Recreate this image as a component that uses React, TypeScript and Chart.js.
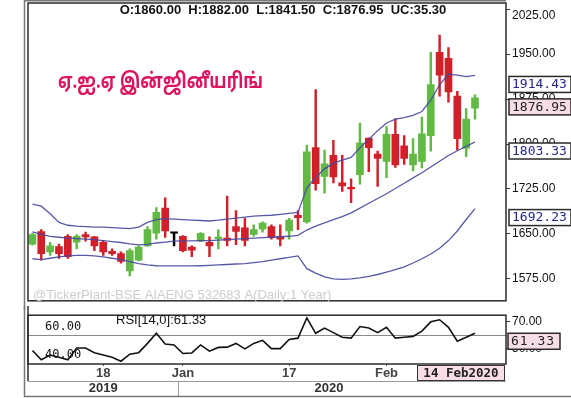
import React, { useEffect, useRef } from 'react';
import { Chart, registerables } from 'chart.js';

Chart.register(...registerables);

// Daily sessions, BSE AIAENG
const dates = [
  '06 Dec 2019', '09 Dec 2019', '10 Dec 2019', '11 Dec 2019', '12 Dec 2019', '13 Dec 2019',
  '16 Dec 2019', '17 Dec 2019', '18 Dec 2019', '19 Dec 2019', '20 Dec 2019', '23 Dec 2019',
  '24 Dec 2019', '26 Dec 2019', '27 Dec 2019', '30 Dec 2019', '31 Dec 2019',
  '01 Jan 2020', '02 Jan 2020', '03 Jan 2020', '06 Jan 2020', '07 Jan 2020', '08 Jan 2020',
  '09 Jan 2020', '10 Jan 2020', '13 Jan 2020', '14 Jan 2020', '15 Jan 2020', '16 Jan 2020',
  '17 Jan 2020', '20 Jan 2020', '21 Jan 2020', '22 Jan 2020', '23 Jan 2020', '24 Jan 2020',
  '27 Jan 2020', '28 Jan 2020', '29 Jan 2020', '30 Jan 2020', '31 Jan 2020',
  '01 Feb 2020', '03 Feb 2020', '04 Feb 2020', '05 Feb 2020', '06 Feb 2020', '07 Feb 2020',
  '10 Feb 2020', '11 Feb 2020', '12 Feb 2020', '13 Feb 2020', '14 Feb 2020',
];

const opens = [
  1633, 1654, 1620, 1629, 1646, 1636, 1649, 1645, 1636, 1621, 1617, 1588, 1606, 1630, 1651, 1693, 1651,
  1646, 1628, 1638, 1636, 1642, 1643, 1662, 1660, 1649, 1658, 1662, 1645, 1655, 1681, 1670, 1794,
  1746, 1781, 1735, 1726, 1749, 1810, 1783, 1771, 1816, 1797, 1765, 1771, 1814, 1953, 1943, 1880,
  1793, 1860,
];
const highs = [
  1651, 1657, 1636, 1633, 1649, 1649, 1653, 1646, 1639, 1625, 1620, 1625, 1630, 1662, 1694, 1710, 1651,
  1647, 1630, 1652, 1645, 1657, 1713, 1689, 1676, 1665, 1670, 1665, 1665, 1676, 1689, 1798, 1891,
  1790, 1806, 1781, 1742, 1835, 1810, 1788, 1829, 1842, 1814, 1809, 1845, 1953, 1982, 1961, 1888,
  1859, 1882,
];
const lows = [
  1631, 1606, 1614, 1609, 1609, 1625, 1638, 1622, 1614, 1614, 1601, 1580, 1605, 1629, 1641, 1644, 1630,
  1620, 1612, 1637, 1612, 1625, 1630, 1632, 1630, 1646, 1653, 1641, 1630, 1641, 1657, 1668, 1723,
  1718, 1735, 1721, 1702, 1733, 1754, 1729, 1744, 1761, 1766, 1755, 1760, 1788, 1880, 1870, 1790,
  1779, 1841.5,
];
const closes = [
  1649, 1617, 1630, 1617, 1612, 1646, 1645, 1630, 1620, 1617, 1604, 1622, 1628, 1657, 1686, 1655, 1651,
  1622, 1623, 1651, 1630, 1643, 1639, 1654, 1639, 1657, 1668, 1644, 1641, 1673, 1677, 1787, 1734,
  1767, 1745, 1730, 1725, 1802, 1794, 1776, 1816, 1765, 1776, 1783, 1817, 1899, 1915, 1887, 1809,
  1841.65, 1876.95,
];

// Bollinger bands (20, 2)
const bbUpper = [
  1699.5, 1696.3, 1683.5, 1669.2, 1664.4, 1662.8, 1662.0, 1661.2, 1661.2, 1660.4, 1659.6, 1658.8,
  1661.2, 1669.2, 1673.9, 1675.5, 1674.7, 1673.9, 1673.1, 1672.3, 1671.5, 1672.8, 1674.7, 1676.3,
  1677.9, 1679.5, 1680.3, 1681.1, 1682.7, 1684.3, 1685.9, 1726.6, 1744.2, 1758.5, 1768.1, 1772.9,
  1777.7, 1793.6, 1808.0, 1822.3, 1835.1, 1841.5, 1843.9, 1847.9, 1854.3, 1873.4, 1898.9, 1916.5,
  1914.9, 1912.5, 1914.43,
];
const bbMiddle = [
  1653.2, 1649.2, 1646.0, 1644.4, 1642.8, 1642.0, 1641.2, 1640.4, 1638.8, 1637.2, 1635.6, 1633.2,
  1631.6, 1632.4, 1634.8, 1636.4, 1638.0, 1638.4, 1638.4, 1638.8, 1638.8, 1639.6, 1640.4, 1641.2,
  1642.0, 1642.8, 1643.6, 1644.4, 1645.2, 1646.0, 1647.6, 1656.4, 1662.8, 1668.4, 1673.9, 1678.7,
  1685.1, 1693.1, 1701.1, 1709.1, 1717.0, 1725.8, 1734.6, 1743.4, 1752.1, 1761.7, 1771.3, 1780.9,
  1788.8, 1796.0, 1803.33,
];
const bbLower = [
  1608.5, 1606.9, 1609.3, 1611.7, 1613.3, 1614.1, 1614.1, 1613.3, 1611.7, 1609.3, 1606.9, 1603.7,
  1600.5, 1598.1, 1596.8, 1596.5, 1596.5, 1596.5, 1596.5, 1596.8, 1597.3, 1598.1, 1598.9, 1599.7,
  1600.5, 1602.1, 1603.7, 1606.1, 1608.5, 1610.9, 1613.3, 1592.0, 1584.6, 1578.2, 1575.0, 1574.2,
  1575.0, 1576.6, 1579.0, 1582.2, 1586.2, 1590.2, 1595.0, 1601.4, 1608.5, 1616.5, 1626.1, 1638.8,
  1654.8, 1674.0, 1692.23,
];

// RSI(14)
const rsi = [
  48.9, 42.2, 45.6, 44.0, 42.2, 50.7, 50.7, 47.3, 45.6, 44.0, 41.1, 46.2, 47.3, 54.0, 61.3, 53.6, 52.9,
  46.7, 47.1, 52.9, 48.4, 51.1, 51.3, 54.0, 50.0, 54.0, 56.2, 50.2, 50.2, 56.9, 57.8, 72.4, 61.3,
  65.1, 61.8, 58.4, 57.8, 66.2, 65.1, 61.8, 65.6, 57.8, 58.4, 59.1, 62.9, 69.6, 71.1, 65.6, 55.6,
  58.4, 61.33,
];

const priceTicks = [1575, 1650, 1725, 1800, 1875, 1950, 2025];
const rsiTicks = [50, 70];
const rsiLevels = [60, 40];
const axisMarks = ['18 Dec 2019', '01 Jan 2020', '17 Jan 2020', '01 Feb 2020'];
const axisMarkText = ['18', 'Jan', '17', 'Feb'];
const years = ['2019', '2020'];
const emptySlots = 3;

const title = 'ஏ.ஐ.ஏ இன்ஜினீயரிங்';
const watermark = '@TickerPlant-BSE AIAENG 532683 A(Daily:1 Year)';

const GREEN = '#62b946';
const RED = '#d2202a';
const BAND = 'rgba(70, 70, 160, 0.9)';
const BAND_TEXT = '#25258c';
const PINK = '#f8dce8';
const SANS = '"Liberation Sans", Arial, sans-serif';
const MONO = '"DejaVu Sans Mono", monospace';

const n = dates.length;
const labels = [...dates, ...Array.from({ length: emptySlots }, (_, i) => `slot${i + 1}`)];
const candleColors = opens.map((o, i) => (closes[i] > o ? GREEN : closes[i] < o ? RED : '#000'));

function valueBox(ctx: CanvasRenderingContext2D, x: number, top: number, w: number, h: number,
  text: string, fg: string, bg: string, spacing = '0px') {
  ctx.fillStyle = bg;
  ctx.fillRect(x, top, w, h);
  ctx.strokeStyle = '#2a2a2a';
  ctx.lineWidth = 1.5;
  ctx.strokeRect(x, top, w, h);
  ctx.fillStyle = fg;
  ctx.font = `13px ${MONO}`;
  (ctx as any).letterSpacing = spacing;
  ctx.textAlign = 'left';
  ctx.textBaseline = 'middle';
  ctx.fillText(text, x + 3, top + h / 2 + 0.5);
  (ctx as any).letterSpacing = '0px';
}

const mainDecor = {
  id: 'mainDecor',
  afterDraw(chart: any) {
    const { ctx, chartArea: a, scales } = chart;
    const y = scales.y;
    ctx.save();

    // outer frame
    ctx.strokeStyle = '#777';
    ctx.lineWidth = 1.5;
    ctx.beginPath();
    ctx.moveTo(24.5, chart.height);
    ctx.lineTo(24.5, 0.75);
    ctx.lineTo(a.right, 0.75);
    ctx.stroke();

    // price panel border
    ctx.strokeStyle = '#2b2b2b';
    ctx.lineWidth = 1.5;
    ctx.strokeRect(a.left, 3, a.right - a.left, a.bottom - 3);

    // OHLC header
    const last = n - 1;
    const header = `O:${opens[last].toFixed(2)}  H:${highs[last].toFixed(2)}  L:${lows[last].toFixed(2)}  C:${closes[last].toFixed(2)}  UC:${(closes[last] - closes[last - 1]).toFixed(2)}`;
    ctx.fillStyle = '#111';
    ctx.font = `bold 13px ${SANS}`;
    ctx.textAlign = 'center';
    ctx.textBaseline = 'middle';
    ctx.fillText(header, 283, 10);

    // company name, set in a condensed width
    ctx.fillStyle = '#dc1460';
    ctx.font = `bold 21px "Noto Sans Tamil", "Lohit Tamil", Latha, "Noto Sans", sans-serif`;
    ctx.textAlign = 'left';
    const tw = ctx.measureText(title).width;
    ctx.save();
    ctx.translate(58, 84);
    ctx.scale(Math.min(1, 205 / tw), 1);
    ctx.fillText(title, 0, 0);
    ctx.restore();

    // watermark
    ctx.fillStyle = '#cdcdcd';
    ctx.font = `13px ${SANS}`;
    ctx.fillText(watermark, 33, 295);

    // top tick label sits inside the canvas
    const top = priceTicks[priceTicks.length - 1];
    ctx.fillStyle = '#111';
    ctx.font = `12px ${SANS}`;
    ctx.fillText(top.toFixed(2), a.right + 6, y.getPixelForValue(top) + 6.5);

    // last-value boxes
    const boxes = [
      { v: bbUpper[last], fg: BAND_TEXT, bg: '#fff' },
      { v: closes[last], fg: '#222', bg: PINK },
      { v: bbMiddle[last], fg: BAND_TEXT, bg: '#fff' },
      { v: bbLower[last], fg: BAND_TEXT, bg: '#fff' },
    ];
    boxes.forEach((b) => {
      const py = y.getPixelForValue(b.v);
      valueBox(ctx, a.right + 3, py + 1, 62, 16, b.v.toFixed(2), b.fg, b.bg);
    });
    ctx.restore();
  },
};

const rsiDecor = {
  id: 'rsiDecor',
  beforeDatasetsDraw(chart: any) {
    const { ctx, chartArea: a, scales } = chart;
    const py = Math.round(scales.y.getPixelForValue(rsiLevels[0])) + 0.5;
    ctx.save();
    ctx.strokeStyle = '#8a8a8a';
    ctx.lineWidth = 1;
    ctx.beginPath();
    ctx.moveTo(a.left, py);
    ctx.lineTo(a.right, py);
    ctx.stroke();
    ctx.restore();
  },
  afterDraw(chart: any) {
    const { ctx, chartArea: a, scales } = chart;
    const x = scales.x;
    const y = scales.y;
    const last = n - 1;
    ctx.save();

    // outer frame (left + bottom)
    ctx.strokeStyle = '#777';
    ctx.lineWidth = 1.5;
    ctx.beginPath();
    ctx.moveTo(24.5, 0);
    ctx.lineTo(24.5, 90.5);
    ctx.lineTo(chart.width, 90.5);
    ctx.stroke();

    // RSI panel border
    ctx.strokeStyle = '#2b2b2b';
    ctx.lineWidth = 1.5;
    ctx.strokeRect(a.left, a.top, a.right - a.left, a.bottom - a.top);
    ctx.beginPath();
    ctx.moveTo(a.left, 0);
    ctx.lineTo(a.left, 75);
    ctx.stroke();

    // date row underline and year divider
    const sepX = x.getPixelForValue(axisMarkIndex(1) - 0.5);
    ctx.strokeStyle = '#999';
    ctx.lineWidth = 1;
    ctx.beginPath();
    ctx.moveTo(a.left, 75.5);
    ctx.lineTo(a.right, 75.5);
    ctx.moveTo(Math.round(sepX) + 0.5, 75.5);
    ctx.lineTo(Math.round(sepX) + 0.5, 90);
    ctx.stroke();

    // years
    ctx.fillStyle = '#333';
    ctx.font = `bold 13px ${SANS}`;
    ctx.textAlign = 'center';
    ctx.textBaseline = 'middle';
    ctx.fillText(years[0], (a.left + sepX) / 2, 82);
    ctx.fillText(years[1], (sepX + x.getPixelForValue(last + 0.5)) / 2, 82);

    // indicator caption
    ctx.fillStyle = '#111';
    ctx.font = `13px ${SANS}`;
    ctx.textAlign = 'left';
    ctx.fillText(`RSI[14,0]:${rsi[last].toFixed(2)}`, 116, a.top + 5.5);

    // level captions
    ctx.font = `12px ${MONO}`;
    rsiLevels.forEach((lv) => {
      ctx.fillText(lv.toFixed(2), 45, y.getPixelForValue(lv) - 8);
    });

    // last RSI box
    const rp = y.getPixelForValue(rsi[last]);
    valueBox(ctx, a.right + 2, rp, 52, 16, rsi[last].toFixed(2), '#222', PINK, '1px');

    // last date box
    const parts = dates[last].split(' ');
    const stamp = `${parts[0]} ${parts[1]}${parts[2]}`;
    ctx.fillStyle = PINK;
    ctx.fillRect(417, 59, 87, 15);
    ctx.strokeStyle = '#333';
    ctx.lineWidth = 1;
    ctx.strokeRect(417.5, 59.5, 87, 15);
    ctx.fillStyle = '#222';
    ctx.font = `bold 12.5px ${MONO}`;
    ctx.textAlign = 'center';
    ctx.fillText(stamp, 461, 67.5);
    ctx.restore();
  },
};

function axisMarkIndex(k: number) {
  return dates.indexOf(axisMarks[k]);
}

export default function App() {
  const mainRef = useRef<HTMLCanvasElement>(null);
  const rsiRef = useRef<HTMLCanvasElement>(null);

  useEffect(() => {
    const band = (label: string, data: number[]) => ({
      type: 'line' as const,
      label,
      data,
      borderColor: BAND,
      borderWidth: 1.3,
      pointRadius: 0,
      tension: 0,
      order: 0,
    });

    const main = new Chart(mainRef.current!, {
      type: 'bar',
      data: {
        labels,
        datasets: [
          band('BB upper', bbUpper),
          band('BB middle', bbMiddle),
          band('BB lower', bbLower),
          {
            type: 'bar',
            label: 'body',
            data: opens.map((o, i) => [o, closes[i]]),
            backgroundColor: candleColors,
            barThickness: 7,
            minBarLength: 1.5,
            grouped: false,
            order: 1,
          } as any,
          {
            type: 'bar',
            label: 'wick',
            data: lows.map((l, i) => [l, highs[i]]),
            backgroundColor: candleColors,
            barThickness: 1.8,
            grouped: false,
            order: 2,
          } as any,
        ],
      },
      options: {
        responsive: false,
        animation: false,
        devicePixelRatio: 1,
        events: [],
        layout: { padding: { left: 28, right: 0, top: 1, bottom: 4 } },
        plugins: { legend: { display: false }, tooltip: { enabled: false } },
        scales: {
          x: { type: 'category', offset: true, display: false },
          y: {
            position: 'right',
            min: 1538.3,
            max: 2025,
            afterBuildTicks: (s: any) => {
              s.ticks = priceTicks.map((v) => ({ value: v }));
            },
            afterFit: (s: any) => {
              s.width = 65;
            },
            ticks: {
              autoSkip: false,
              padding: 2,
              color: '#111',
              font: { size: 12, family: SANS },
              callback: (v: any) => (v === priceTicks[priceTicks.length - 1] ? '' : Number(v).toFixed(2)),
            },
            grid: { drawOnChartArea: false, drawTicks: true, tickLength: 4, color: '#333' },
            border: { display: false },
          },
        },
      },
      plugins: [mainDecor],
    });

    const marks = new Map(axisMarks.map((d, k) => [dates.indexOf(d), axisMarkText[k]]));

    const osc = new Chart(rsiRef.current!, {
      type: 'line',
      data: {
        labels,
        datasets: [
          { label: 'RSI', data: rsi, borderColor: '#111', borderWidth: 1.6, pointRadius: 0, tension: 0 },
        ],
      },
      options: {
        responsive: false,
        animation: false,
        devicePixelRatio: 1,
        events: [],
        layout: { padding: { left: 28, right: 0, top: 5, bottom: 0 } },
        plugins: { legend: { display: false }, tooltip: { enabled: false } },
        scales: {
          x: {
            type: 'category',
            offset: true,
            afterFit: (s: any) => {
              s.height = 34;
            },
            ticks: {
              autoSkip: false,
              maxRotation: 0,
              minRotation: 0,
              padding: 0,
              color: '#444',
              font: { size: 13, weight: 'bold', family: SANS },
              callback: (_v: any, i: number) => marks.get(i) ?? '',
            },
            grid: {
              drawOnChartArea: false,
              drawTicks: true,
              tickLength: 2,
              color: (c: any) => (marks.has(c.index) ? '#555' : 'rgba(0,0,0,0)'),
            },
            border: { display: false },
          },
          y: {
            position: 'right',
            min: 39.1,
            max: 74.4,
            afterBuildTicks: (s: any) => {
              s.ticks = rsiTicks.map((v) => ({ value: v }));
            },
            afterFit: (s: any) => {
              s.width = 65;
            },
            ticks: {
              autoSkip: false,
              padding: 2,
              color: '#111',
              font: { size: 12, family: SANS },
              callback: (v: any) => Number(v).toFixed(2),
            },
            grid: { drawOnChartArea: false, drawTicks: true, tickLength: 4, color: '#333' },
            border: { display: false },
          },
        },
      },
      plugins: [rsiDecor],
    });

    return () => {
      main.destroy();
      osc.destroy();
    };
  }, []);

  return (
    <div style={{ position: 'absolute', left: 0, top: 0, width: 571, height: 398, background: '#fff' }}>
      <canvas ref={mainRef} width={571} height={310} style={{ position: 'absolute', left: 0, top: 0 }} />
      <canvas ref={rsiRef} width={571} height={92} style={{ position: 'absolute', left: 0, top: 306 }} />
    </div>
  );
}
